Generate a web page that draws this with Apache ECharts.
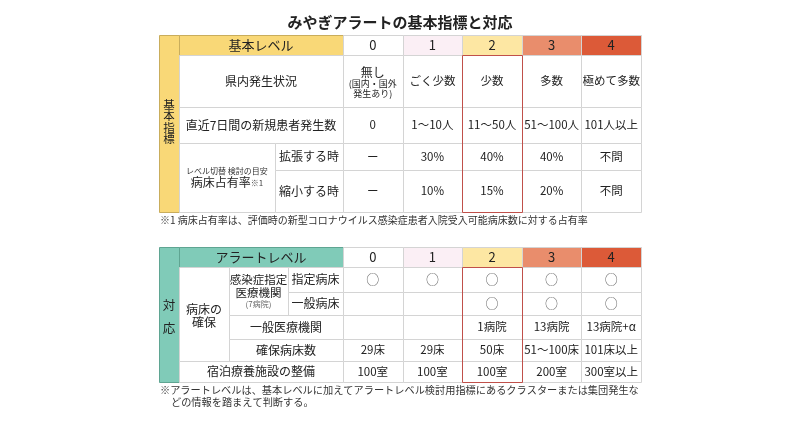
<!DOCTYPE html>
<html><head><meta charset="utf-8">
<script src="https://cdn.jsdelivr.net/npm/echarts@6/dist/echarts.min.js"></script>
<style>html,body{margin:0;padding:0;background:#fff}#c{width:800px;height:424px}</style>
</head><body><div id="c"></div>
<script>
const FONT = "'Noto Sans CJK JP', 'Noto Sans', sans-serif";

// ---- content ----
const chartTitle = 'みやぎアラートの基本指標と対応';
const levels = ['0', '1', '2', '3', '4'];
const basicStrip = '基\n本\n指\n標';
const alertStrip = '対\n応';
const basicLevelTitle = '基本レベル';
const alertLevelTitle = 'アラートレベル';
const situationLabel = '県内発生状況';
const situation = ['無し', 'ごく少数', '少数', '多数', '極めて多数'];
const situationNote = ['(国内・国外', '発生あり)'];
const newCasesLabel = '直近7日間の新規患者発生数';
const newCases = ['0', '1～10人', '11～50人', '51～100人', '101人以上'];
const bedRateNote = 'レベル切替 検討の目安';
const bedRateLabel = '病床占有率';
const bedRateMark = '※1';
const expandLabel = '拡張する時';
const shrinkLabel = '縮小する時';
const bedExpand = ['ー', '30%', '40%', '40%', '不問'];
const bedShrink = ['ー', '10%', '15%', '20%', '不問'];
const bedSecureLabel = ['病床の', '確保'];
const designatedInst = ['感染症指定', '医療機関'];
const designatedInstNote = '(7病院)';
const designatedBedLabel = '指定病床';
const generalBedLabel = '一般病床';
const designatedBeds = ['○', '○', '○', '○', '○'];
const generalBeds = ['', '', '○', '○', '○'];
const generalHospLabel = '一般医療機関';
const generalHosp = ['', '', '1病院', '13病院', '13病院+α'];
const securedBedsLabel = '確保病床数';
const securedBeds = ['29床', '29床', '50床', '51～100床', '101床以上'];
const lodgingLabel = '宿泊療養施設の整備';
const lodging = ['100室', '100室', '100室', '200室', '300室以上'];
const footnote1 = '※1 病床占有率は、評価時の新型コロナウイルス感染症患者入院受入可能病床数に対する占有率';
const footnote2a = '※アラートレベルは、基本レベルに加えてアラートレベル検討用指標にあるクラスターまたは集団発生な';
const footnote2b = 'どの情報を踏まえて判断する。';

// ---- layout (column edges in level-column units, row edges in row units) ----
const cols1 = [-3.087, -2.752, -1.141, 0, 1, 2, 3, 4, 5];
const rows1 = [0, 20, 72, 108, 135, 177];
const cols2 = [-3.087, -2.752, -1.913, -0.923, 0, 1, 2, 3, 4, 5];
const rows2 = [0, 20, 45, 68, 92, 114, 135];

// ---- styles ----
const levelFill = ['#ffffff', '#fbeff5', '#fde7a3', '#e98d6c', '#dc5a38'];
const orange = '#f9d877', orangeLine = '#c9ad5c';
const teal = '#80cbb8', tealLine = '#5fa592';
const gridLine = '#d4d4d4';
const redLine = '#c0504a';
const txt = '#222';
const VFS = 11.5;

function mk(cols, rows, c0, c1, r0, r1, text, o) {
  return Object.assign({ value: [cols[c0], cols[c1], rows[r0], rows[r1]], text: text }, o || {});
}

// ---- table 1 cells ----
const cells1 = [];
cells1.push(mk(cols1, rows1, 0, 1, 0, 5, basicStrip, { fill: orange, stroke: orangeLine, fs: 11.5, lh: 11.5, dy: -2 }));
cells1.push(mk(cols1, rows1, 1, 3, 0, 1, basicLevelTitle, { fill: orange, stroke: orangeLine, fs: 13 }));
levels.forEach((l, i) => cells1.push(mk(cols1, rows1, 3 + i, 4 + i, 0, 1, l, { fill: levelFill[i], stroke: gridLine, fs: 13 })));
cells1.push(mk(cols1, rows1, 1, 3, 1, 2, situationLabel));
situation.forEach((s, i) => {
  if (i === 0) {
    cells1.push(mk(cols1, rows1, 3, 4, 1, 2, '{a|' + s + '}\n' + situationNote.map(n => '{b|' + n + '}').join('\n'), {
      rich: { a: { fontSize: 12, lineHeight: 13, fontFamily: FONT, fill: txt }, b: { fontSize: 9, lineHeight: 10, fontFamily: FONT, fill: txt } }, dy: 1
    }));
  } else cells1.push(mk(cols1, rows1, 3 + i, 4 + i, 1, 2, s, { fs: VFS }));
});
cells1.push(mk(cols1, rows1, 1, 3, 2, 3, newCasesLabel));
newCases.forEach((s, i) => cells1.push(mk(cols1, rows1, 3 + i, 4 + i, 2, 3, s, { fs: VFS })));
cells1.push(mk(cols1, rows1, 1, 2, 3, 5, '{s|' + bedRateNote + '}\n{m|' + bedRateLabel + '}{k|' + bedRateMark + '}', {
  rich: { s: { fontSize: 8, lineHeight: 10, fontFamily: FONT, fill: '#333' }, m: { fontSize: 12, lineHeight: 14, fontFamily: FONT, fill: txt }, k: { fontSize: 8, lineHeight: 14, fontFamily: FONT, fill: '#444' } }
}));
cells1.push(mk(cols1, rows1, 2, 3, 3, 4, expandLabel));
bedExpand.forEach((s, i) => cells1.push(mk(cols1, rows1, 3 + i, 4 + i, 3, 4, s, { fs: VFS })));
cells1.push(mk(cols1, rows1, 2, 3, 4, 5, shrinkLabel));
bedShrink.forEach((s, i) => cells1.push(mk(cols1, rows1, 3 + i, 4 + i, 4, 5, s, { fs: VFS })));
cells1.push(mk(cols1, rows1, 5, 6, 1, 5, '', { fill: 'transparent', stroke: redLine }));

// ---- table 2 cells ----
const cells2 = [];
cells2.push(mk(cols2, rows2, 0, 1, 0, 6, alertStrip, { fill: teal, stroke: tealLine, fs: 12.5, lh: 23, dy: 2 }));
cells2.push(mk(cols2, rows2, 1, 4, 0, 1, alertLevelTitle, { fill: teal, stroke: tealLine, fs: 13 }));
levels.forEach((l, i) => cells2.push(mk(cols2, rows2, 4 + i, 5 + i, 0, 1, l, { fill: levelFill[i], stroke: gridLine, fs: 13 })));
cells2.push(mk(cols2, rows2, 1, 2, 1, 5, bedSecureLabel.join('\n'), { lh: 13, dy: 2 }));
cells2.push(mk(cols2, rows2, 2, 3, 1, 3, designatedInst.map(n => '{a|' + n + '}').join('\n') + '\n{b|' + designatedInstNote + '}', {
  rich: { a: { fontSize: 11.5, lineHeight: 12.5, fontFamily: FONT, fill: txt }, b: { fontSize: 8, lineHeight: 10, fontFamily: FONT, fill: '#666' } }
}));
cells2.push(mk(cols2, rows2, 3, 4, 1, 2, designatedBedLabel));
designatedBeds.forEach((s, i) => cells2.push(mk(cols2, rows2, 4 + i, 5 + i, 1, 2, s, { color: '#666', fs: 13 })));
cells2.push(mk(cols2, rows2, 3, 4, 2, 3, generalBedLabel));
generalBeds.forEach((s, i) => cells2.push(mk(cols2, rows2, 4 + i, 5 + i, 2, 3, s, { color: '#666', fs: 13 })));
cells2.push(mk(cols2, rows2, 2, 4, 3, 4, generalHospLabel));
generalHosp.forEach((s, i) => cells2.push(mk(cols2, rows2, 4 + i, 5 + i, 3, 4, s, { fs: VFS })));
cells2.push(mk(cols2, rows2, 2, 4, 4, 5, securedBedsLabel));
securedBeds.forEach((s, i) => cells2.push(mk(cols2, rows2, 4 + i, 5 + i, 4, 5, s, { fs: VFS })));
cells2.push(mk(cols2, rows2, 1, 4, 5, 6, lodgingLabel));
lodging.forEach((s, i) => cells2.push(mk(cols2, rows2, 4 + i, 5 + i, 5, 6, s, { fs: VFS })));
cells2.push(mk(cols2, rows2, 6, 7, 1, 6, '', { fill: 'transparent', stroke: redLine }));

function makeRender(cells) {
  return function (params, api) {
    const c = cells[params.dataIndex];
    const a = api.coord([api.value(0), api.value(2)]);
    const b = api.coord([api.value(1), api.value(3)]);
    const ax = Math.round(a[0]), ay = Math.round(a[1]), bx = Math.round(b[0]), by = Math.round(b[1]);
    const children = [{
      type: 'rect',
      shape: { x: ax + 0.5, y: ay + 0.5, width: bx - ax, height: by - ay },
      style: { fill: c.fill || '#ffffff', stroke: c.stroke || gridLine, lineWidth: 1 }
    }];
    if (c.text) {
      const st = {
        text: c.text, x: (a[0] + b[0]) / 2, y: (a[1] + b[1]) / 2 + (c.dy || 0),
        align: 'center', verticalAlign: 'middle',
        fontSize: c.fs || 12, fontFamily: FONT, fill: c.color || txt
      };
      if (c.lh) st.lineHeight = c.lh;
      if (c.rich) st.rich = c.rich;
      children.push({ type: 'text', style: st });
    }
    return { type: 'group', children: children };
  };
}

const chart = echarts.init(document.getElementById('c'), null, { renderer: 'canvas' });
chart.setOption({
  animation: false,
  backgroundColor: '#ffffff',
  textStyle: { fontFamily: FONT },
  title: { text: chartTitle, left: 'center', top: 10, textStyle: { fontSize: 15, fontWeight: 'bold', color: txt, fontFamily: FONT } },
  grid: [
    { left: 159, top: 35, width: 482, height: 177 },
    { left: 159, top: 247, width: 482, height: 135 }
  ],
  xAxis: [
    { gridIndex: 0, type: 'value', min: cols1[0], max: cols1[cols1.length - 1], show: false },
    { gridIndex: 1, type: 'value', min: cols2[0], max: cols2[cols2.length - 1], show: false }
  ],
  yAxis: [
    { gridIndex: 0, type: 'value', min: rows1[0], max: rows1[rows1.length - 1], inverse: true, show: false },
    { gridIndex: 1, type: 'value', min: rows2[0], max: rows2[rows2.length - 1], inverse: true, show: false }
  ],
  series: [
    { type: 'custom', xAxisIndex: 0, yAxisIndex: 0, renderItem: makeRender(cells1), data: cells1.map(c => c.value), encode: { x: [0, 1], y: [2, 3] }, clip: false, silent: true },
    { type: 'custom', xAxisIndex: 1, yAxisIndex: 1, renderItem: makeRender(cells2), data: cells2.map(c => c.value), encode: { x: [0, 1], y: [2, 3] }, clip: false, silent: true }
  ],
  graphic: [
    { type: 'text', x: 160, y: 220, style: { text: footnote1, fontSize: 10, fontFamily: FONT, fill: '#333', verticalAlign: 'middle' } },
    { type: 'text', x: 160, y: 390, style: { text: footnote2a, fontSize: 10.2, fontFamily: FONT, fill: '#333', verticalAlign: 'middle' } },
    { type: 'text', x: 171, y: 402, style: { text: footnote2b, fontSize: 10.2, fontFamily: FONT, fill: '#333', verticalAlign: 'middle' } }
  ]
});
</script></body></html>
